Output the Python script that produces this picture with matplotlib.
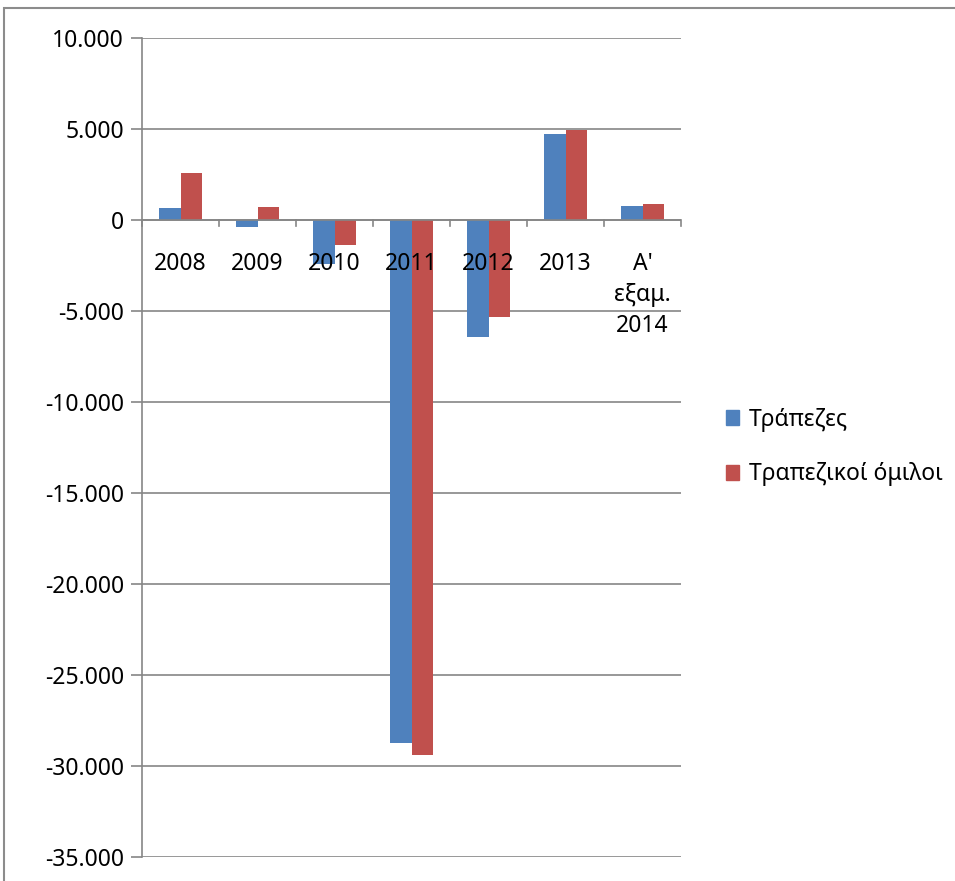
import matplotlib.pyplot as plt
import matplotlib.patches as mpatches
import numpy as np

categories = ["2008", "2009", "2010", "2011", "2012", "2013", "A'\nεξαμ.\n2014"]
banks = [650, -360, -2400, -28750, -6450, 4750, 760]
groups = [2600, 690, -1350, -29400, -5350, 4970, 870]
series_names = ["Τράπεζες", "Τραπεζικοί όμιλοι"]

blue = "#4F81BD"
red = "#C0504D"
grid_col = "#868686"
fs = 16.5

plt.rcParams['font.family'] = ['Noto Sans', 'DejaVu Sans']
W, H = 955, 881
fig = plt.figure(figsize=(W / 100, H / 100), dpi=100)

# outer chart border
fig.patches.append(mpatches.Rectangle((4 / W, -0.1), 1.2, 1 - 8 / H + 0.1,
                                      transform=fig.transFigure, fill=False,
                                      edgecolor="#8c8c8c", linewidth=1.5))

ax = fig.add_axes([142 / W, (H - 857) / H, (681 - 142) / W, (857 - 38) / H])

x = np.arange(len(categories))
bw = 0.285
ax.bar(x - bw / 2, banks, bw, color=blue, label=series_names[0], zorder=3)
ax.bar(x + bw / 2, groups, bw, color=red, label=series_names[1], zorder=3)

ax.set_xlim(-0.5, len(categories) - 0.5)
ax.set_ylim(-35000, 10000)
yt = np.arange(-35000, 10001, 5000)
ax.set_yticks(yt)
ax.set_yticklabels([f"{v:,}".replace(",", ".") for v in yt], fontsize=fs)
ax.yaxis.grid(True, color=grid_col, linewidth=1.2, zorder=0)
ax.tick_params(axis='y', length=8, color=grid_col, width=1.2, pad=5)
ax.set_xticks([])

for s in ["top", "right", "bottom"]:
    ax.spines[s].set_visible(False)
ax.spines["left"].set_color(grid_col)
ax.spines["left"].set_linewidth(1.2)

# category axis at zero with tick marks at boundaries
ax.axhline(0, color=grid_col, linewidth=1.2, zorder=4)
for b in np.arange(-0.5, len(categories), 1.0):
    ax.plot([b, b], [0, -330], color=grid_col, linewidth=1.2, zorder=4, clip_on=False)

for i, c in enumerate(categories):
    ax.annotate(c, (i, 0), xytext=(0, -23), textcoords='offset points',
                ha='center', va='top', fontsize=fs, linespacing=1.38, zorder=5)

handles = [mpatches.Patch(color=blue), mpatches.Patch(color=red)]
fig.legend(handles, series_names, loc='center left',
           bbox_to_anchor=(705 / W, 1 - 447 / H), frameon=False, fontsize=fs,
           handlelength=0.6, handleheight=0.6, handletextpad=0.4, labelspacing=1.35)

fig.savefig("out.png", dpi=100)
